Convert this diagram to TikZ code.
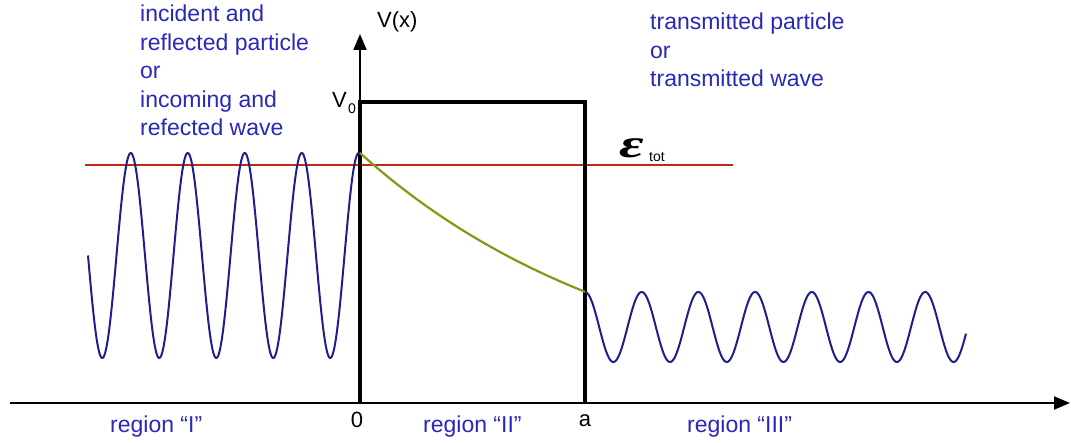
\documentclass[tikz,border=0pt]{standalone}
\usepackage{graphicx}
\usepackage{fontspec}
\setmainfont{Liberation Sans}
\newfontfamily\epsfont{Liberation Serif}
\usetikzlibrary{arrows.meta}
\definecolor{txtblue}{RGB}{40,40,185}
\definecolor{wave}{RGB}{30,30,140}
\definecolor{olive}{RGB}{135,150,20}
\definecolor{ered}{RGB}{190,40,25}
\tikzset{
  lbl/.style={inner sep=0pt, text=txtblue, font=\fontsize{23}{28.5}\selectfont, align=left},
  blk/.style={inner sep=0pt, text=black, font=\fontsize{22}{26}\selectfont},
  axis/.style={line width=2pt, -{Triangle[length=16pt,width=13pt]}},
  barrier/.style={line width=4pt},
  wavestyle/.style={line width=2pt, color=wave, line join=round},
}
\begin{document}
\begin{tikzpicture}[x=1pt,y=-1pt]
\useasboundingbox (0,0) rectangle (1071,443);
% coordinates
\coordinate (xs) at (10,403);
\coordinate (xe) at (1070,403);
\coordinate (o) at (360,403);
\coordinate (ye) at (360,34);
\coordinate (tl) at (360,102);
\coordinate (tr) at (585,102);
\coordinate (br) at (585,403);
\coordinate (es) at (85,165);
\coordinate (ee) at (733,165);
% energy line
\draw[ered, line width=1.6pt] (es) -- (ee);
% axes
\draw[axis] (xs) -- (xe);
\draw[axis] (o) -- (ye);
% barrier
\draw[barrier, line join=miter] (o) -- (tl) -- (tr) -- (br);
% waves
\draw[wavestyle] plot[domain=88:360, samples=400] (\x, {255.5+102.5*sin(6.31579*(\x-88))});
\draw[olive, line width=2.2pt] plot[domain=360:585, samples=100] (\x, {403-250*exp(-0.0036*(\x-360))});
\draw[wavestyle] plot[domain=585:966, samples=400] (\x, {327-35*cos(6.34921*(\x-585))});
% labels
\node[lbl, anchor=north west] (inc) at (140,5) {incident and\\reflected particle\\or\\incoming and\\refected wave};
\node[lbl, anchor=north west] (trans) at (650,13) {transmitted particle\\or\\transmitted wave};
\node[blk, anchor=base west] (vx) at (377,28) {V(x)};
\node[blk, anchor=base west] (v0) at (332,108) {V};
\node[inner sep=0pt, anchor=base west, font=\fontsize{14}{14}\selectfont] (v0s) at (348,114) {0};
\node[inner sep=0pt, anchor=base west, font=\fontsize{40}{40}\epsfont\bfseries\itshape] (eps) at (619,158) {\scalebox{1.5}[1]{ε}};
\node[inner sep=0pt, anchor=base west, font=\fontsize{14}{14}\selectfont] (tot) at (649,162) {tot};
\node[lbl, anchor=base west] (r1) at (110,432) {region “I”};
\node[lbl, anchor=base west] (r2) at (423,432) {region “II”};
\node[lbl, anchor=base west] (r3) at (687,432) {region “III”};
\node[blk, anchor=base] (zero) at (357,428) {0};
\node[blk, anchor=base] (alab) at (585,426) {a};
\end{tikzpicture}
\end{document}
